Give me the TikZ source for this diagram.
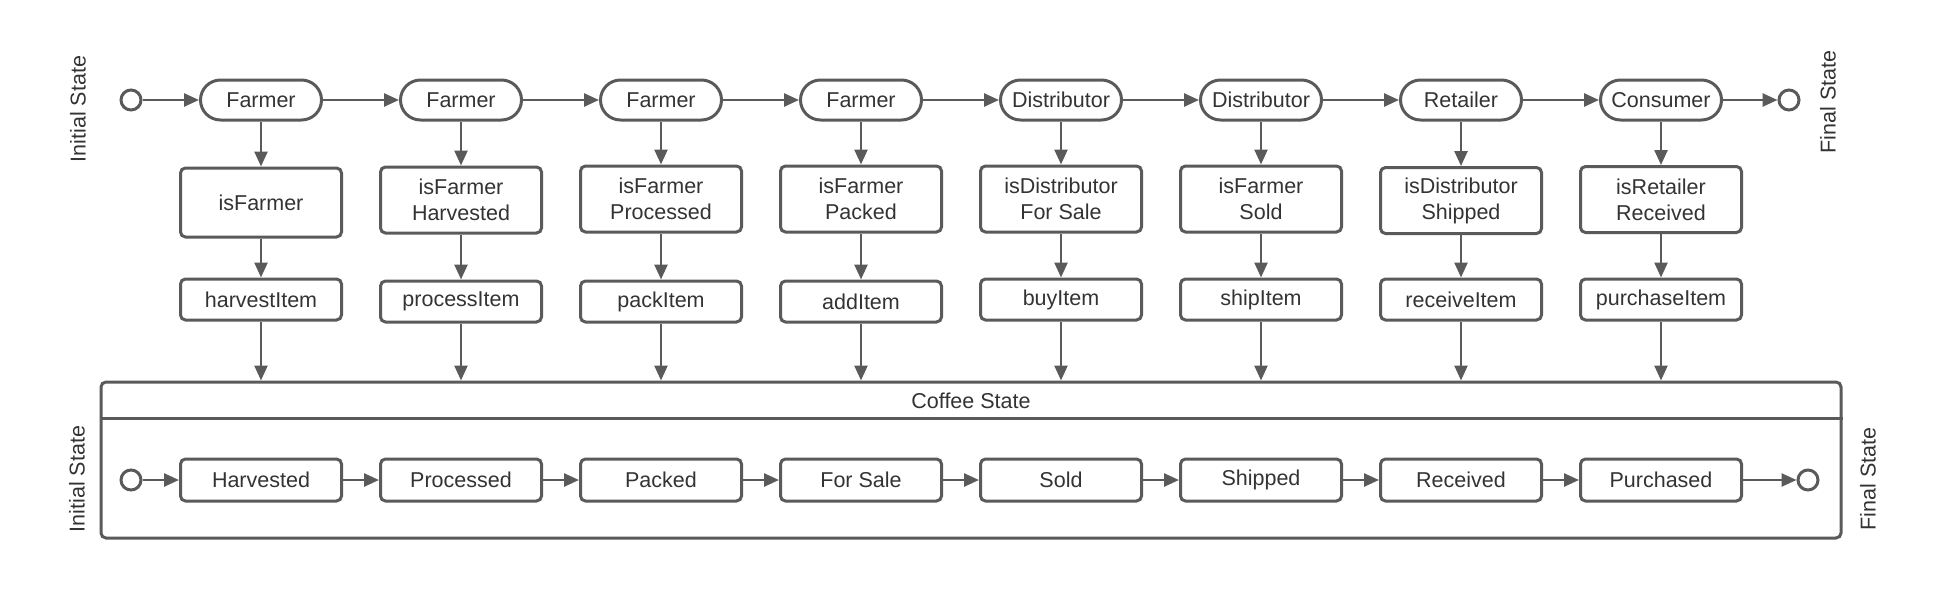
\documentclass[tikz,border=0pt]{standalone}
\usepackage{fontspec}
\setmainfont{Liberation Sans}
\usetikzlibrary{arrows.meta}
\definecolor{ln}{HTML}{5A5A5A}
\definecolor{tx}{HTML}{333333}
\begin{document}
\begin{tikzpicture}[x=1pt,y=-1pt,
 every node/.style={font=\fontsize{21.5}{26}\selectfont, text=tx},
 shp/.style={draw=ln, line width=3pt},
 pill/.style={shp, minimum width=121pt, minimum height=40pt, rounded corners=20pt, inner sep=0pt},
 cond/.style={shp, minimum width=161pt, minimum height=66pt, rounded corners=5pt, align=center, inner sep=0pt},
 act/.style={shp, minimum width=161pt, minimum height=41pt, rounded corners=5pt, inner sep=0pt},
 stbox/.style={shp, minimum width=161pt, minimum height=42pt, rounded corners=5pt, inner sep=0pt},
 term/.style={circle, draw=ln, line width=3pt, minimum size=20pt, inner sep=0pt},
 conn/.style={draw=ln, line width=2.5pt, -{Triangle[length=15pt,width=13pt]}},
 side/.style={rotate=90, inner sep=0pt}
]
\useasboundingbox (0,0) rectangle (1941,600);

% side labels
\node[side] (lt) at (78,109) {Initial State};
\node[side] (lb) at (77,479) {Initial State};
\node[side] (rt) at (1828,102) {Final State};
\node[side] (rb) at (1868,479) {Final State};

% top row
\node[term] (i1) at (131,100) {};
\node[pill] (p1) at (261,100) {Farmer};
\node[pill] (p2) at (461,100) {Farmer};
\node[pill] (p3) at (661,100) {Farmer};
\node[pill] (p4) at (861,100) {Farmer};
\node[pill] (p5) at (1061,100) {Distributor};
\node[pill] (p6) at (1261,100) {Distributor};
\node[pill] (p7) at (1461,100) {Retailer};
\node[pill] (p8) at (1661,100) {Consumer};
\node[term] (e1) at (1789,100) {};

% conditions
\node[cond, minimum height=69pt] (c1) at (261,202.5) {isFarmer};
\node[cond] (c2) at (461,200) {isFarmer\\Harvested};
\node[cond] (c3) at (661,199) {isFarmer\\Processed};
\node[cond] (c4) at (861,199) {isFarmer\\Packed};
\node[cond] (c5) at (1061,199) {isDistributor\\For Sale};
\node[cond] (c6) at (1261,199) {isFarmer\\Sold};
\node[cond] (c7) at (1461,200.5) {isDistributor\\Shipped};
\node[cond] (c8) at (1661,199.5) {isRetailer\\Received};

% actions
\node[act] (f1) at (261,299.5) {harvestItem};
\node[act] (f2) at (461,301.5) {processItem};
\node[act] (f3) at (661,301.5) {packItem};
\node[act] (f4) at (861,301.5) {addItem};
\node[act] (f5) at (1061,299.5) {buyItem};
\node[act] (f6) at (1261,299.5) {shipItem};
\node[act] (f7) at (1461,299.5) {receiveItem};
\node[act] (f8) at (1661,299.5) {purchaseItem};

% container
\node[shp, rounded corners=5pt, minimum width=1740pt, minimum height=156pt, inner sep=0pt] (cs) at (971,460) {};
\draw[draw=ln, line width=3pt] ([yshift=-38pt]cs.north west) -- ([yshift=-38pt]cs.north east);
\node (cst) at (971,401) {Coffee State};

% lower row
\node[term] (i2) at (131,480) {};
\node[stbox] (s1) at (261,480) {Harvested};
\node[stbox] (s2) at (461,480) {Processed};
\node[stbox] (s3) at (661,480) {Packed};
\node[stbox] (s4) at (861,480) {For Sale};
\node[stbox] (s5) at (1061,480) {Sold};
\node[stbox] (s6) at (1261,480) {Shipped};
\node[stbox] (s7) at (1461,480) {Received};
\node[stbox] (s8) at (1661,480) {Purchased};
\node[term] (e2) at (1808,480) {};

% connectors
\draw[conn] (i1) -- (p1);
\draw[conn] (p1) -- (p2);
\draw[conn] (p2) -- (p3);
\draw[conn] (p3) -- (p4);
\draw[conn] (p4) -- (p5);
\draw[conn] (p5) -- (p6);
\draw[conn] (p6) -- (p7);
\draw[conn] (p7) -- (p8);
\draw[conn] (p8) -- (e1);

\foreach \k in {1,...,8}{
  \draw[conn] (p\k) -- (p\k |- c\k.north);
  \draw[conn] (c\k) -- (c\k |- f\k.north);
  \draw[conn] (f\k) -- (f\k |- cs.north);
}

\draw[conn] (i2) -- (s1);
\draw[conn] (s1) -- (s2);
\draw[conn] (s2) -- (s3);
\draw[conn] (s3) -- (s4);
\draw[conn] (s4) -- (s5);
\draw[conn] (s5) -- (s6);
\draw[conn] (s6) -- (s7);
\draw[conn] (s7) -- (s8);
\draw[conn] (s8) -- (e2);
\end{tikzpicture}
\end{document}
